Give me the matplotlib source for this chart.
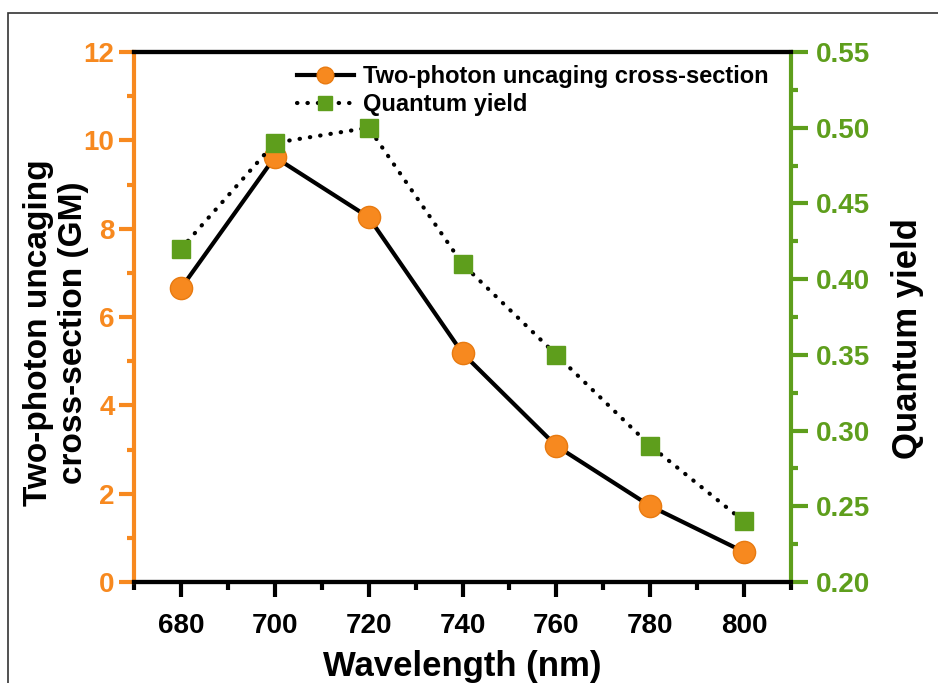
import matplotlib
matplotlib.use("Agg")
import matplotlib.pyplot as plt
from matplotlib.patches import Rectangle
from matplotlib.ticker import MultipleLocator, FormatStrFormatter

wavelength = [680, 700, 720, 740, 760, 780, 800]
cross_section = [6.65, 9.62, 8.26, 5.18, 3.08, 1.72, 0.68]
quantum_yield = [0.42, 0.49, 0.50, 0.41, 0.35, 0.29, 0.24]

ORANGE = "#F7891F"
GREEN = "#5E9E1C"

plt.rcParams['font.family'] = ['Liberation Sans', 'DejaVu Sans']
plt.rcParams['font.weight'] = 'bold'

fig = plt.figure(figsize=(9.38, 6.83), dpi=100)
ax = fig.add_axes([134/938, 1-582/683, (791-134)/938, (582-52)/683])
ax2 = ax.twinx()

fig.patches.append(Rectangle((8/938, -0.1), 1.2, (683-13)/683 + 0.1, transform=fig.transFigure,
                             fill=False, edgecolor="#333333", linewidth=1.2))

l1, = ax.plot(wavelength, cross_section, '-', color='black', lw=3, marker='o', ms=16,
              mfc=ORANGE, mec="#E87A10", mew=1, zorder=3, label='Two-photon uncaging cross-section')
l2, = ax2.plot(wavelength, quantum_yield, linestyle=(0, (0.1, 2.4)), color='black', lw=3,
               marker='s', ms=13, mfc=GREEN, mec=GREEN, zorder=3, label='Quantum yield')
l2.set_dash_capstyle('round')

ax.set_xlim(670, 810)
ax.set_ylim(0, 12)
ax2.set_ylim(0.20, 0.55)
ax.set_xticks(wavelength)
ax.xaxis.set_minor_locator(MultipleLocator(10))
ax.yaxis.set_major_locator(MultipleLocator(2))
ax.yaxis.set_minor_locator(MultipleLocator(1))
ax2.yaxis.set_major_locator(MultipleLocator(0.05))
ax2.yaxis.set_minor_locator(MultipleLocator(0.025))
ax2.yaxis.set_major_formatter(FormatStrFormatter('%.2f'))

for a in (ax, ax2):
    for s in a.spines.values():
        s.set_linewidth(3)
ax.spines['left'].set_color(ORANGE)
ax2.spines['left'].set_visible(False)
ax2.spines['right'].set_color(GREEN)
ax.spines['right'].set_visible(False)

ax.tick_params(axis='x', which='major', direction='out', length=11, width=3, labelsize=20, pad=11)
ax.tick_params(axis='x', which='minor', direction='out', length=6, width=3)
ax.tick_params(axis='y', which='major', direction='out', length=11, width=3, colors=ORANGE, labelsize=20, pad=3)
ax.tick_params(axis='y', which='minor', direction='out', length=5, width=3, colors=ORANGE)
ax2.tick_params(axis='y', which='major', direction='out', length=12, width=3, colors=GREEN, labelsize=20, pad=6)
ax2.tick_params(axis='y', which='minor', direction='out', length=5, width=3, colors=GREEN)

ax.set_xlabel('Wavelength (nm)', fontsize=25, fontweight='bold', labelpad=8)
ax.set_ylabel('Two-photon uncaging\ncross-section (GM)', fontsize=24, fontweight='bold',
              linespacing=1.2)
ax.yaxis.set_label_coords(-0.068, 0.47)
ax2.set_ylabel('Quantum yield', fontsize=25, fontweight='bold')
ax2.yaxis.set_label_coords(1.152, 0.46)

ax.legend(handles=[l1, l2], loc='upper left', bbox_to_anchor=(0.216, 1.015), frameon=False,
          fontsize=17, handlelength=2.4, handletextpad=0.4, labelspacing=0.2, markerscale=0.75)

fig.savefig('out.png', dpi=100)
